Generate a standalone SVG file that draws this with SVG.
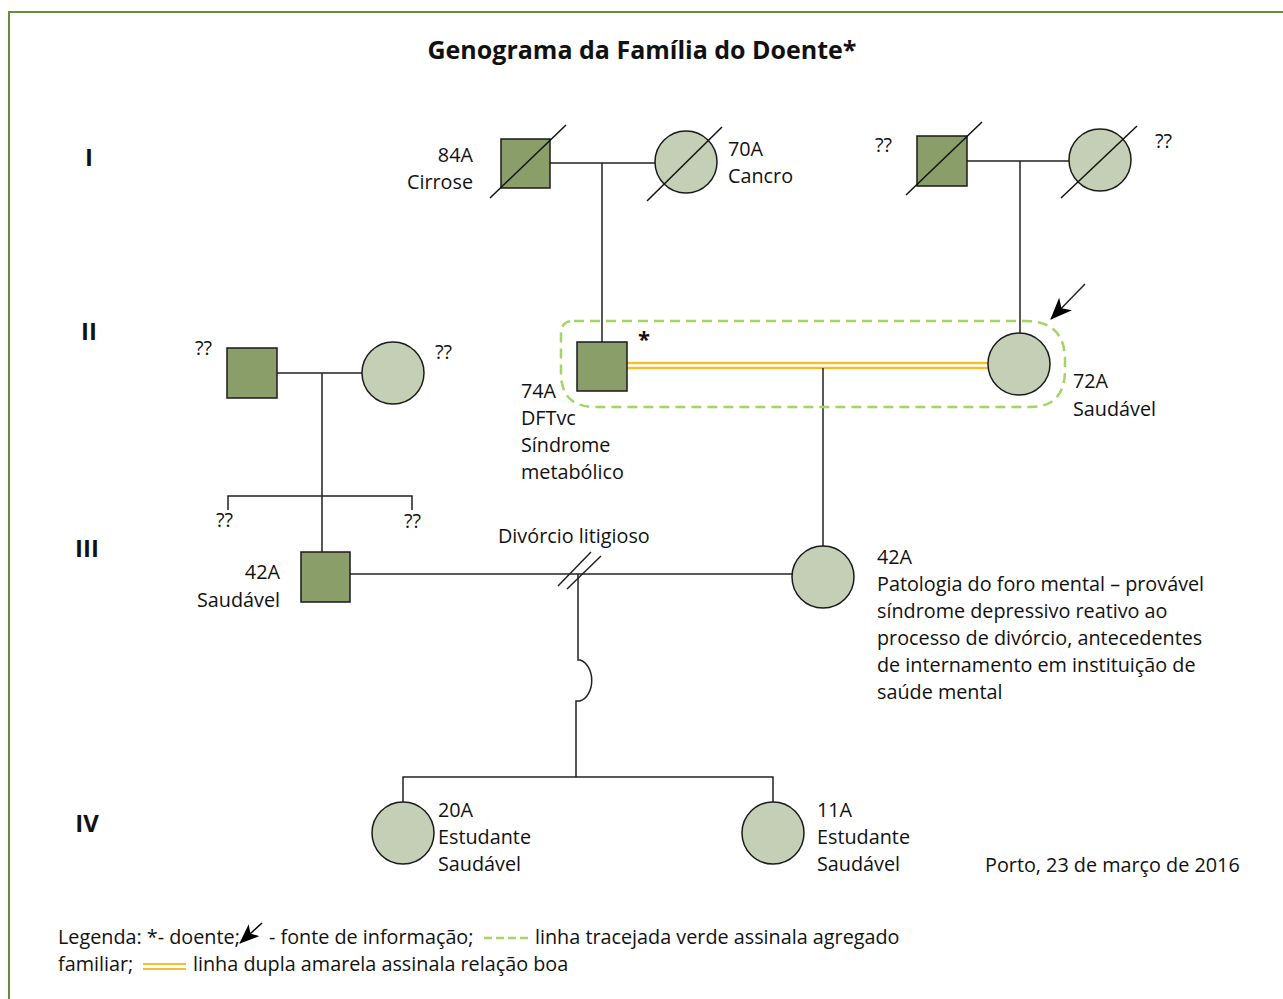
<svg xmlns="http://www.w3.org/2000/svg" width="1283" height="999" viewBox="0 0 1283 999">
<defs>
<style>
text{font-family:"Open Sans","Noto Sans","Liberation Sans",sans-serif;font-size:19.8px;fill:#111}
.title{font-size:25px;font-weight:bold}
.gen{font-size:24px;font-weight:bold}
.end{text-anchor:end}
.m{fill:#8a9e69;stroke:#1a1a1a;stroke-width:1.5}
.f{fill:#c5cfb5;stroke:#1a1a1a;stroke-width:1.5}
.ln{fill:none;stroke:#222;stroke-width:1.5}
.dead{stroke:#111;stroke-width:1.5}
.yel{stroke:#f2c02e;stroke-width:2.5;fill:none}
.grn{fill:none;stroke:#a3d466;stroke-width:2.5;stroke-dasharray:10 6}
.border{fill:none;stroke:#6b8a3c;stroke-width:2}
</style>
<marker id="arr" markerUnits="userSpaceOnUse" markerWidth="22" markerHeight="18" viewBox="0 0 22 18" refX="21" refY="9" orient="auto">
<path d="M0,0 L22,9 L0,18 L6,9 Z" fill="#000"/>
</marker>
<marker id="arrs" markerUnits="userSpaceOnUse" markerWidth="20" markerHeight="16" viewBox="0 0 20 16" refX="19" refY="8" orient="auto">
<path d="M0,0 L20,8 L0,16 L5,8 Z" fill="#000"/>
</marker>
</defs>
<rect width="1283" height="999" fill="#fff"/>
<path class="border" d="M9,999 L9,12 L1283,12"/>
<text class="title" x="642" y="59" text-anchor="middle">Genograma da Família do Doente*</text>
<g id="generations">
<text class="gen" x="89" y="166" text-anchor="middle">I</text>
<text class="gen" x="89" y="340" text-anchor="middle">II</text>
<text class="gen" x="87" y="557" text-anchor="middle">III</text>
<text class="gen" x="87" y="832" text-anchor="middle">IV</text>
</g>
<g id="connectors">
<path class="ln" d="M550,163 H655 M602,163 V342"/>
<path class="ln" d="M967,161 H1069 M1020,161 V333"/>
<path class="ln" d="M277,373 H362 M322,373 V552 M228,510 V496 H412 V510"/>
<path class="yel" d="M627,363 H988 M627,368 H988"/>
<path class="ln" d="M823,368 V546"/>
<path class="ln" d="M350,574 H792"/>
<path class="ln" d="M558,586 L591,552 M567,589 L601,556"/>
<path class="ln" d="M578,574 V660 H580 A15,21 0 0 1 580,701 H576 V777 M403,802 V777 H773 V802"/>
<path class="grn" d="M574,321 H1025 Q1065,321 1065,360 V370 Q1065,407 1030,407 H595 Q561,407 561,373 V333 Q561,321 574,321 Z"/>
<line class="ln" x1="1085" y1="284" x2="1051" y2="319" marker-end="url(#arr)"/>
</g>
<g id="n-84A">
<rect class="m" x="501" y="139" width="49" height="49"/>
<line class="dead" x1="490" y1="198" x2="566" y2="125"/>
<text class="end" x="473" y="162">84A</text>
<text class="end" x="473" y="189">Cirrose</text>
</g>
<g id="n-70A">
<circle class="f" cx="686" cy="162" r="31"/>
<line class="dead" x1="647" y1="201" x2="722" y2="127"/>
<text x="728" y="156">70A</text>
<text x="728" y="183">Cancro</text>
</g>
<g id="n-gp2m">
<rect class="m" x="917" y="136" width="50" height="50"/>
<line class="dead" x1="906" y1="195" x2="982" y2="122"/>
<text x="875" y="152">??</text>
</g>
<g id="n-gp2f">
<circle class="f" cx="1100" cy="160" r="31"/>
<line class="dead" x1="1061" y1="198" x2="1137" y2="126"/>
<text x="1155" y="148">??</text>
</g>
<g id="n-74A">
<rect class="m" x="577" y="342" width="50" height="49"/>
<text x="638" y="347" style="font-weight:bold;font-size:22px">*</text>
<text x="521" y="398">74A</text>
<text x="521" y="425">DFTvc</text>
<text x="521" y="452">Síndrome</text>
<text x="521" y="479">metabólico</text>
</g>
<g id="n-72A">
<circle class="f" cx="1019" cy="364" r="31"/>
<text x="1073" y="388">72A</text>
<text x="1073" y="416">Saudável</text>
</g>
<g id="n-ilm">
<rect class="m" x="227" y="348" width="50" height="50"/>
<text x="195" y="355">??</text>
</g>
<g id="n-ilf">
<circle class="f" cx="393" cy="373" r="31"/>
<text x="435" y="359">??</text>
</g>
<g id="n-sib1"><text x="216" y="527">??</text></g>
<g id="n-sib2"><text x="404" y="528">??</text></g>
<g id="n-42Am">
<rect class="m" x="301" y="552" width="49" height="50"/>
<text class="end" x="280" y="579">42A</text>
<text class="end" x="280" y="607">Saudável</text>
</g>
<g id="n-42Af">
<circle class="f" cx="823" cy="577" r="31"/>
<text x="877" y="564">42A</text>
<text x="877" y="591">Patologia do foro mental – provável</text>
<text x="877" y="618">síndrome depressivo reativo ao</text>
<text x="877" y="645">processo de divórcio, antecedentes</text>
<text x="877" y="672">de internamento em instituição de</text>
<text x="877" y="699">saúde mental</text>
</g>
<text x="498" y="543">Divórcio litigioso</text>
<g id="n-20A">
<circle class="f" cx="403" cy="833" r="31"/>
<text x="438" y="817">20A</text>
<text x="438" y="844">Estudante</text>
<text x="438" y="871">Saudável</text>
</g>
<g id="n-11A">
<circle class="f" cx="773" cy="833" r="31"/>
<text x="817" y="817">11A</text>
<text x="817" y="844">Estudante</text>
<text x="817" y="871">Saudável</text>
</g>
<text x="985" y="872">Porto, 23 de março de 2016</text>
<g id="legend">
<text x="58" y="944">Legenda: *- doente;</text>
<line x1="262" y1="923" x2="240" y2="943" stroke="#000" stroke-width="1.5" marker-end="url(#arrs)"/>
<text x="269" y="944">- fonte de informação;</text>
<line class="grn" x1="484" y1="938" x2="528" y2="938" style="stroke-dasharray:8 4"/>
<text x="535" y="944">linha tracejada verde assinala agregado</text>
<text x="58" y="971">familiar;</text>
<path class="yel" d="M143,964 H186 M143,969 H186" style="stroke-width:2"/>
<text x="193" y="971">linha dupla amarela assinala relação boa</text>
</g>
</svg>
